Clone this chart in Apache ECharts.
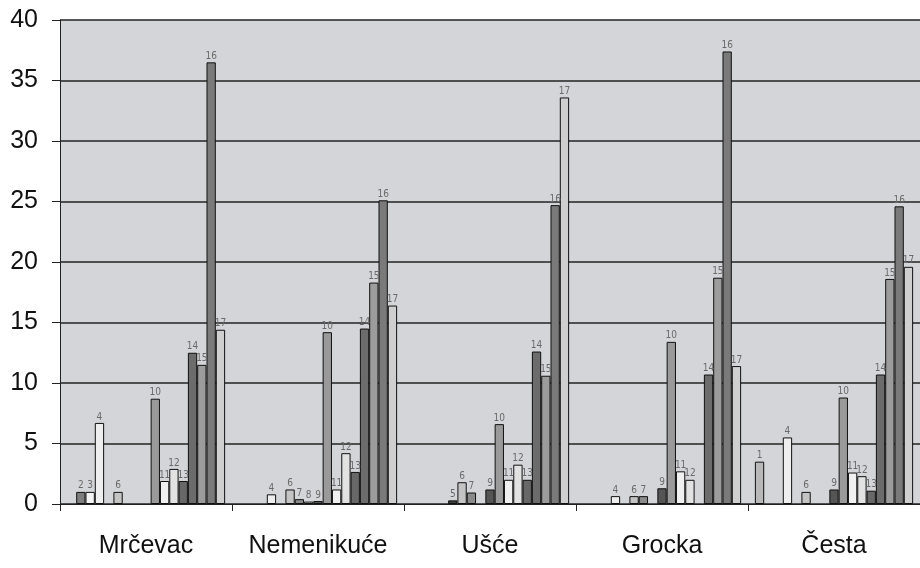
<!DOCTYPE html>
<html>
<head>
<meta charset="utf-8">
<script src="https://cdn.jsdelivr.net/npm/echarts@6/dist/echarts.min.js"></script>
<style>html,body{margin:0;padding:0;background:#fff}#c{width:920px;height:568px}</style>
</head>
<body>
<div id="c"></div>
<script>
const categories = ['Mrčevac', 'Nemenikuće', 'Ušće', 'Grocka', 'Česta'];
const seriesNames = ['1','2','3','4','5','6','7','8','9','10','11','12','13','14','15','16','17'];
const s1  = [null, null, null, null, 3.5];
const s2  = [1.0, null, null, null, null];
const s3  = [1.0, null, null, null, null];
const s4  = [6.7, 0.8, null, 0.65, 5.5];
const s5  = [null, null, 0.3, null, null];
const s6  = [1.0, 1.2, 1.8, 0.65, 1.0];
const s7  = [null, 0.4, 0.95, 0.65, null];
const s8  = [null, 0.2, null, null, null];
const s9  = [null, 0.25, 1.2, 1.3, 1.2];
const s10 = [8.7, 14.2, 6.6, 13.4, 8.8];
const s11 = [1.9, 1.2, 2.0, 2.7, 2.6];
const s12 = [2.9, 4.2, 3.25, 2.0, 2.3];
const s13 = [1.9, 2.65, 2.0, null, 1.1];
const s14 = [12.5, 14.5, 12.6, 10.7, 10.7];
const s15 = [11.5, 18.3, 10.6, 18.7, 18.6];
const s16 = [36.5, 25.1, 24.7, 37.4, 24.6];
const s17 = [14.4, 16.4, 33.6, 11.4, 19.6];
const seriesValues = [s1,s2,s3,s4,s5,s6,s7,s8,s9,s10,s11,s12,s13,s14,s15,s16,s17];
const yTicks = [0, 5, 10, 15, 20, 25, 30, 35, 40];

const colors = ['#b8b8b8','#7e7e7e','#f4f4f4','#eeeeee','#3c3c3c','#c4c4c4','#8a8a8a','#dcdcdc',
                '#555555','#9a9a9a','#f0f0f0','#e2e2e2','#686868','#6c6c6c','#9c9c9c','#7a7a7a','#cfcfcf'];

const chart = echarts.init(document.getElementById('c'), null, {renderer: 'canvas'});
const series = seriesNames.map((n, i) => ({
  name: n,
  type: 'bar',
  data: seriesValues[i],
  barGap: '0%',
  barCategoryGap: '8%',
  itemStyle: {color: colors[i], borderColor: '#111', borderWidth: 1},
  label: {
    show: true, position: 'top', distance: 1,
    fontSize: 10, color: '#6a6a6a', fontFamily: 'DejaVu Sans Condensed, Liberation Sans Narrow, sans-serif',
    formatter: p => (p.value ? n : '')
  },
  emphasis: {disabled: true}
}));

chart.setOption({
  animation: false,
  backgroundColor: '#ffffff',
  grid: {left: 60, right: 0, top: 20, bottom: 64, show: true, backgroundColor: '#d4d5d8', borderWidth: 0},
  xAxis: {
    type: 'category',
    data: categories,
    axisLine: {show: true, lineStyle: {color: '#222', width: 1}},
    axisTick: {show: true, length: 7, interval: 0, lineStyle: {color: '#222'}},
    axisLabel: {fontSize: 25, color: '#111', margin: 30, interval: 0, hideOverlap: false,
                fontFamily: 'Liberation Sans, Arial, sans-serif'}
  },
  yAxis: {
    type: 'value',
    min: yTicks[0], max: yTicks[yTicks.length - 1], interval: 5,
    axisLine: {show: true, lineStyle: {color: '#222', width: 1}},
    axisTick: {show: true, length: 8, lineStyle: {color: '#222'}},
    axisLabel: {fontSize: 25, color: '#111', margin: 22, fontFamily: 'Liberation Sans, Arial, sans-serif'},
    splitLine: {show: true, lineStyle: {color: '#222', width: 1.5}}
  },
  series: series
});
</script>
</body>
</html>
